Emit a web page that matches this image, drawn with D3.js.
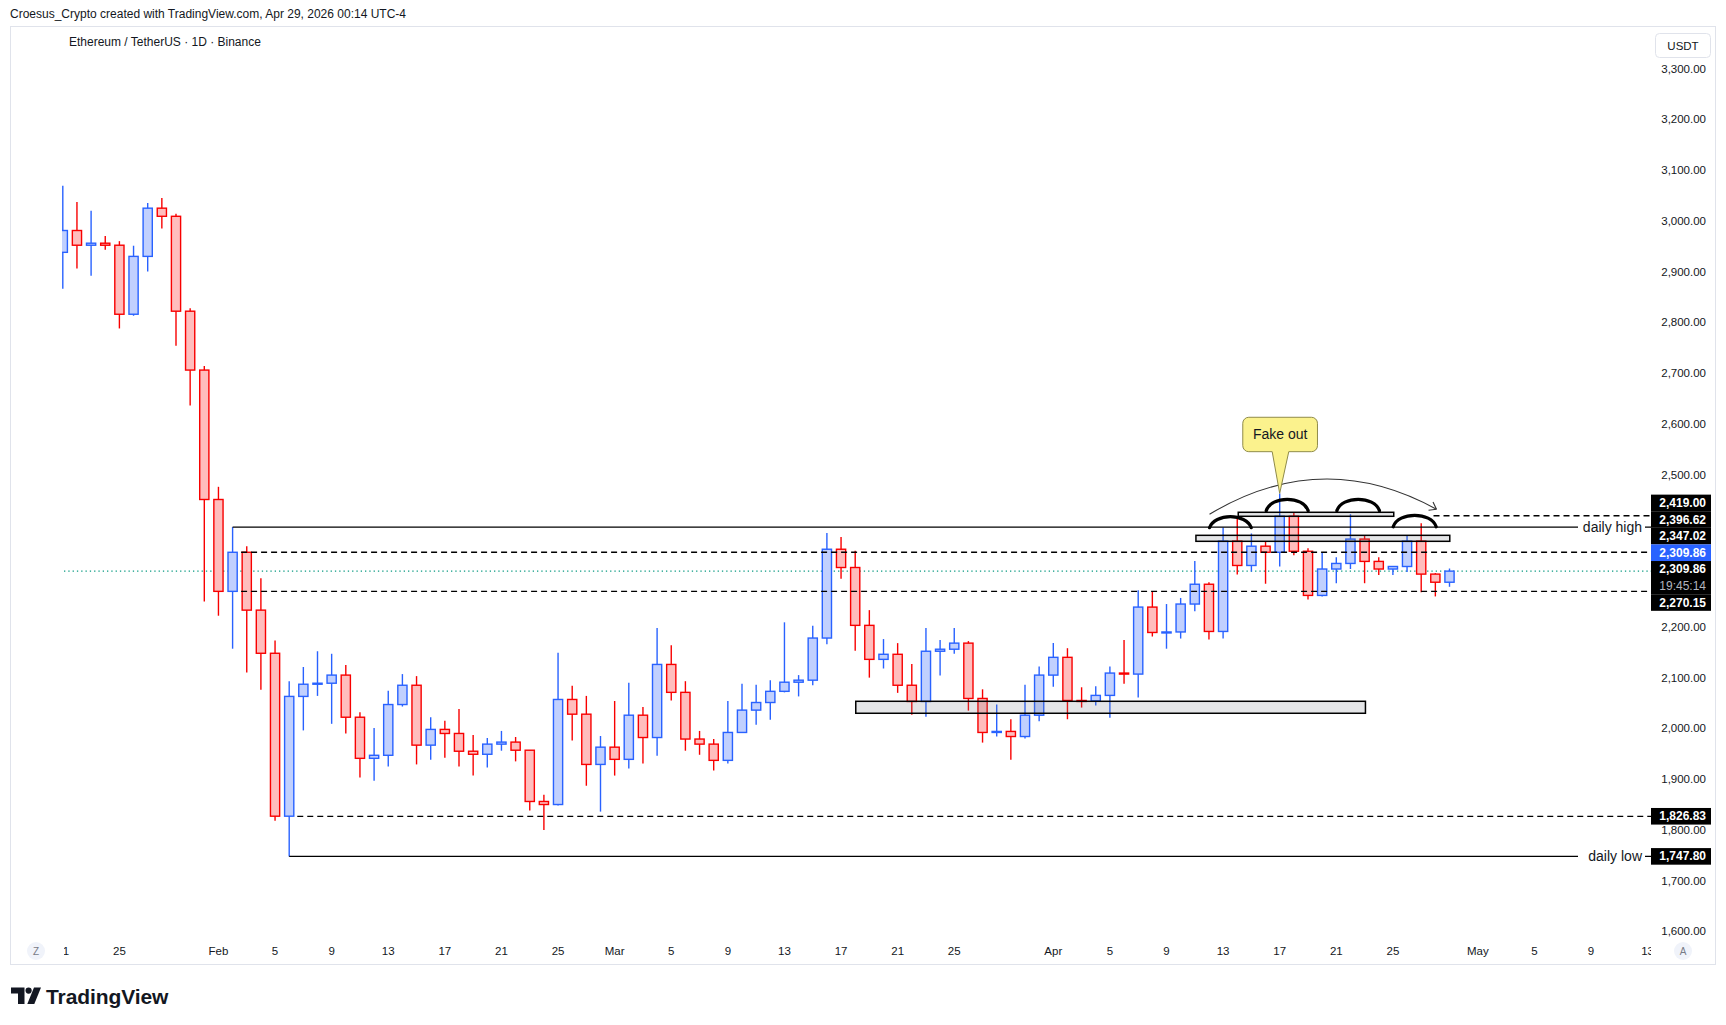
<!DOCTYPE html>
<html>
<head>
<meta charset="utf-8" />
<title>ETH / USDT 1D</title>
<script src="https://cdn.jsdelivr.net/npm/d3@7"></script>
<style>
  body { margin: 0; background: #fff; }
  text { font-family: "Liberation Sans", Arial, sans-serif; fill: #131722; }
</style>
</head>
<body>
<svg id="chart"></svg>
<script>

// daily candles, Jan 21 -> Apr 29 2026
var dates = [
  "2026-01-21","2026-01-22","2026-01-23","2026-01-24","2026-01-25","2026-01-26","2026-01-27","2026-01-28","2026-01-29","2026-01-30",
  "2026-01-31","2026-02-01","2026-02-02","2026-02-03","2026-02-04","2026-02-05","2026-02-06","2026-02-07","2026-02-08","2026-02-09",
  "2026-02-10","2026-02-11","2026-02-12","2026-02-13","2026-02-14","2026-02-15","2026-02-16","2026-02-17","2026-02-18","2026-02-19",
  "2026-02-20","2026-02-21","2026-02-22","2026-02-23","2026-02-24","2026-02-25","2026-02-26","2026-02-27","2026-02-28","2026-03-01",
  "2026-03-02","2026-03-03","2026-03-04","2026-03-05","2026-03-06","2026-03-07","2026-03-08","2026-03-09","2026-03-10","2026-03-11",
  "2026-03-12","2026-03-13","2026-03-14","2026-03-15","2026-03-16","2026-03-17","2026-03-18","2026-03-19","2026-03-20","2026-03-21",
  "2026-03-22","2026-03-23","2026-03-24","2026-03-25","2026-03-26","2026-03-27","2026-03-28","2026-03-29","2026-03-30","2026-03-31",
  "2026-04-01","2026-04-02","2026-04-03","2026-04-04","2026-04-05","2026-04-06","2026-04-07","2026-04-08","2026-04-09","2026-04-10",
  "2026-04-11","2026-04-12","2026-04-13","2026-04-14","2026-04-15","2026-04-16","2026-04-17","2026-04-18","2026-04-19","2026-04-20",
  "2026-04-21","2026-04-22","2026-04-23","2026-04-24","2026-04-25","2026-04-26","2026-04-27","2026-04-28","2026-04-29"
];
var open = [
  2938, 2981, 2952, 2956, 2952, 2816, 2930, 3025, 3009, 2822,
  2706, 2451, 2270, 2347, 2233, 2148, 1827, 2063, 2087, 2089,
  2105, 2022, 1941, 1947, 2047, 2085, 1967, 1998, 1990, 1955,
  1949, 1969, 1973, 1957, 1856, 1850, 2057, 2028, 1929, 1963,
  1939, 2026, 1982, 2126, 2071, 1979, 1969, 1937, 1992, 2036,
  2051, 2073, 2091, 2095, 2178, 2353, 2317, 2203, 2136, 2146,
  2085, 2053, 2152, 2156, 2168, 2059, 1992, 1994, 1984, 2026,
  2105, 2140, 2055, 2054, 2065, 2109, 2107, 2239, 2189, 2190,
  2245, 2284, 2191, 2369, 2321, 2359, 2347, 2418, 2349, 2262,
  2314, 2325, 2373, 2329, 2314, 2319, 2369, 2304, 2288
];
var high = [
  3069, 3037, 3020, 2970, 2960, 2951, 3035, 3045, 3014, 2828,
  2714, 2476, 2396.62, 2359, 2296, 2173, 2093, 2121, 2152, 2147,
  2125, 2032, 2001, 2074, 2107, 2103, 2022, 2015, 2038, 1987,
  1981, 1995, 1983, 1957, 1869, 2149, 2084, 2064, 1985, 2054,
  2090, 2042, 2198, 2164, 2093, 1995, 1979, 2054, 2088, 2086,
  2095, 2209, 2105, 2202, 2385, 2377, 2350, 2233, 2176, 2168,
  2127, 2198, 2174, 2198, 2172, 2077, 2047, 2018, 2086, 2122,
  2168, 2158, 2081, 2083, 2122, 2174, 2272, 2270, 2245, 2257,
  2330, 2288, 2396, 2417, 2384, 2369, 2463, 2426, 2355, 2347,
  2337, 2422, 2380, 2337, 2320, 2380, 2404, 2306, 2315
];
var low = [
  2866, 2906, 2892, 2943, 2788, 2813, 2900, 2985, 2754, 2636,
  2250, 2222, 2157, 2110, 2076, 1818, 1747.8, 1996, 2064, 2009,
  1990, 1903, 1897, 1925, 2043, 1929, 1938, 1942, 1925, 1907,
  1923, 1956, 1935, 1838, 1800, 1848, 1976, 1887, 1836, 1907,
  1921, 1931, 1946, 2055, 1956, 1948, 1917, 1931, 1992, 2007,
  2017, 2071, 2063, 2085, 2166, 2295, 2153, 2100, 2118, 2070,
  2027, 2023, 2104, 2147, 2035, 1972, 1984, 1938, 1980, 2014,
  2082, 2018, 2041, 2045, 2021, 2088, 2061, 2181, 2157, 2177,
  2231, 2175, 2177, 2303, 2309, 2285, 2319, 2341, 2254, 2260,
  2286, 2314, 2286, 2302, 2302, 2308, 2268, 2260, 2279
];
var close = [
  2981, 2952, 2956, 2952, 2816, 2930, 3025, 3009, 2822, 2706,
  2451, 2270, 2347, 2233, 2148, 1827, 2063, 2087, 2089, 2105,
  2022, 1941, 1947, 2047, 2085, 1967, 1998, 1990, 1955, 1949,
  1969, 1973, 1957, 1856, 1850, 2057, 2028, 1929, 1963, 1939,
  2026, 1982, 2126, 2071, 1979, 1969, 1937, 1992, 2036, 2051,
  2073, 2091, 2095, 2178, 2353, 2317, 2203, 2136, 2146, 2085,
  2053, 2152, 2156, 2168, 2059, 1992, 1994, 1984, 2026, 2105,
  2140, 2055, 2054, 2065, 2109, 2107, 2239, 2189, 2190, 2245,
  2284, 2191, 2369, 2321, 2359, 2347, 2418, 2349, 2262, 2314,
  2325, 2373, 2329, 2314, 2319, 2369, 2304, 2288, 2309.86
];

var priceTicks = [3300, 3200, 3100, 3000, 2900, 2800, 2700, 2600, 2500, 2400, 2300, 2200, 2100, 2000, 1900, 1800, 1700, 1600];
var timeTickDates = ["2026-01-21","2026-01-25","2026-02-01","2026-02-05","2026-02-09","2026-02-13","2026-02-17","2026-02-21","2026-02-25",
  "2026-03-01","2026-03-05","2026-03-09","2026-03-13","2026-03-17","2026-03-21","2026-03-25","2026-04-01","2026-04-05","2026-04-09",
  "2026-04-13","2026-04-17","2026-04-21","2026-04-25","2026-05-01","2026-05-05","2026-05-09","2026-05-13"];
var timeTickLabels = ["21","25","Feb","5","9","13","17","21","25","Mar","5","9","13","17","21","25","Apr","5","9","13","17","21","25","May","5","9","13"];

// drawings (day offset from Jan 21, price)
var levelPrice = [2419.00, 2396.62, 2347.02, 2270.15, 1826.83, 1747.80];
var levelFrom  = [96.87, 12, 12.6, 12.6, 16.57, 16];
var levelText  = ["", "daily high", "", "", "", "daily low"];

var zoneFrom   = [56.04, 80.08, 83.07];
var zoneTo     = [92.06, 98.02, 94.06];
var zoneTop    = [2053.4, 2380.4, 2425.8];
var zoneBottom = [2029.8, 2368.6, 2417.9];

var arcFrom = [81.04, 85.05, 90.04, 94.02];
var arcTo   = [83.99, 88.01, 93.05, 97.06];
var arcBase = [2395.5, 2428.9, 2428.9, 2397.4];
var arcTop  = [2417.2, 2451.4, 2451.4, 2419.9];

var arrowDays   = [81.04, 89.02, 97.08];
var arrowPrices = [2421.9, 2555.5, 2431.7];

var calloutText = "Fake out";
var calloutTip = [86, 2463];
var calloutBoxDays = [83.39, 88.67];
var calloutBoxPrices = [2613, 2545.2];
var calloutBaseDays = [85.47, 86.64];

var lastPrice = 2309.86;
var countdown = "19:45:14";

var width = 1726, height = 1025;
var upColor = "#2962ff", upFill = "#c1d0fe";
var downColor = "#f80000", downFill = "#ffbdbd";

var svg = d3.select("#chart").attr("width", width).attr("height", height);

var parse = d3.utcParse("%Y-%m-%d");
var start = parse(dates[0]);
var x = d3.scaleUtc()
  .domain([start, parse("2026-05-13")])
  .range([62.8, 1647.6]);
var y = d3.scaleLinear()
  .domain([1600, 3300])
  .range([931.4, 68.6]);

function atDay(d) {
  return x(new Date(start.getTime() + d * 864e5));
}

var plotLeft = 62, plotRight = 1651;

// header
svg.append("text").attr("x", 10).attr("y", 14).attr("dominant-baseline", "central")
  .attr("font-size", "12px")
  .text("Croesus_Crypto created with TradingView.com, Apr 29, 2026 00:14 UTC-4");

svg.append("rect").attr("x", 10.5).attr("y", 26.5).attr("width", 1705).attr("height", 938)
  .attr("fill", "#fff").attr("stroke", "#e0e3eb");

svg.append("text").attr("x", 69).attr("y", 42).attr("dominant-baseline", "central")
  .attr("font-size", "12px")
  .text("Ethereum / TetherUS \u00b7 1D \u00b7 Binance");

// clip for plot
svg.append("clipPath").attr("id", "plotclip").append("rect")
  .attr("x", plotLeft).attr("y", 27).attr("width", plotRight - plotLeft).attr("height", 913);
svg.append("clipPath").attr("id", "timeclip").append("rect")
  .attr("x", plotLeft + 2).attr("y", 940).attr("width", plotRight - plotLeft - 2).attr("height", 24);

// last price dotted line
svg.append("line")
  .attr("x1", 64).attr("x2", plotRight)
  .attr("y1", y(lastPrice)).attr("y2", y(lastPrice))
  .attr("stroke", "#089981").attr("stroke-width", 1.2).attr("stroke-dasharray", "1.3,3");

// candles
var candles = dates.map(function(d, i) {
  return { date: parse(d), o: open[i], h: high[i], l: low[i], c: close[i] };
});
var cg = svg.append("g").attr("clip-path", "url(#plotclip)");
cg.selectAll(".wick").data(candles).enter().append("line")
  .attr("class", "wick")
  .attr("x1", function(d) { return x(d.date); })
  .attr("x2", function(d) { return x(d.date); })
  .attr("y1", function(d) { return y(d.h); })
  .attr("y2", function(d) { return y(d.l); })
  .attr("stroke", function(d) { return d.c >= d.o ? upColor : downColor; })
  .attr("stroke-width", 1.4);
cg.selectAll(".body").data(candles).enter().append("rect")
  .attr("class", "body")
  .attr("x", function(d) { return x(d.date) - 4.6; })
  .attr("width", 9.2)
  .attr("y", function(d) { return y(Math.max(d.o, d.c)); })
  .attr("height", function(d) { return Math.max(1, Math.abs(y(d.o) - y(d.c))); })
  .attr("fill", function(d) { return d.c >= d.o ? upFill : downFill; })
  .attr("stroke", function(d) { return d.c >= d.o ? upColor : downColor; })
  .attr("stroke-width", 1.4);

// drawings
var dg = svg.append("g").attr("clip-path", "url(#plotclip)");

zoneFrom.forEach(function(f, i) {
  dg.append("rect")
    .attr("x", atDay(f)).attr("width", atDay(zoneTo[i]) - atDay(f))
    .attr("y", y(zoneTop[i])).attr("height", y(zoneBottom[i]) - y(zoneTop[i]))
    .attr("fill", "rgba(120,123,134,0.2)").attr("stroke", "#000").attr("stroke-width", 1.5);
});

levelPrice.forEach(function(p, i) {
  var solid = levelText[i] !== "";
  dg.append("line")
    .attr("x1", atDay(levelFrom[i])).attr("x2", plotRight)
    .attr("y1", y(p)).attr("y2", y(p))
    .attr("stroke", "#000").attr("stroke-width", solid ? 1.4 : 1.3)
    .attr("stroke-dasharray", solid ? null : "6,4");
  if (solid) {
    dg.append("rect").attr("x", 1578).attr("y", y(p) - 9).attr("width", 67).attr("height", 18).attr("fill", "#fff");
    dg.append("text").attr("x", 1642).attr("y", y(p)).attr("dominant-baseline", "central")
      .attr("text-anchor", "end").attr("font-size", "14px").text(levelText[i]);
  }
});

arcFrom.forEach(function(f, i) {
  var x0 = atDay(f), x1 = atDay(arcTo[i]);
  var yb = y(arcBase[i]), yt = y(arcTop[i]);
  var w = x1 - x0;
  var yc = (8 * yt - 2 * yb) / 6;
  var p = d3.path();
  p.moveTo(x0, yb);
  p.bezierCurveTo(x0 + w * 0.12, yc, x1 - w * 0.12, yc, x1, yb);
  dg.append("path").attr("d", p.toString()).attr("fill", "none")
    .attr("stroke", "#000").attr("stroke-width", 3.3).attr("stroke-linecap", "round");
});

// curved arrow
var ax = arrowDays.map(atDay), ay = arrowPrices.map(y);
var ap = d3.path();
ap.moveTo(ax[0], ay[0]);
ap.quadraticCurveTo(ax[1], ay[1], ax[2], ay[2]);
dg.append("path").attr("d", ap.toString()).attr("fill", "none").attr("stroke", "#333").attr("stroke-width", 1.1);
var ang = Math.atan2(ay[2] - ay[1], ax[2] - ax[1]);
var head = d3.path();
[0.62, -0.62].forEach(function(da) {
  head.moveTo(ax[2], ay[2]);
  head.lineTo(ax[2] - 8 * Math.cos(ang + da), ay[2] - 8 * Math.sin(ang + da));
});
dg.append("path").attr("d", head.toString()).attr("fill", "none").attr("stroke", "#333").attr("stroke-width", 1.1);

// callout
var bx0 = atDay(calloutBoxDays[0]), bx1 = atDay(calloutBoxDays[1]);
var by0 = y(calloutBoxPrices[0]), by1 = y(calloutBoxPrices[1]);
var px0 = atDay(calloutBaseDays[0]), px1 = atDay(calloutBaseDays[1]);
var tx = atDay(calloutTip[0]), ty = y(calloutTip[1]);
var r = 6;
var cp = d3.path();
cp.moveTo(bx0 + r, by0);
cp.lineTo(bx1 - r, by0);
cp.arcTo(bx1, by0, bx1, by0 + r, r);
cp.lineTo(bx1, by1 - r);
cp.arcTo(bx1, by1, bx1 - r, by1, r);
cp.lineTo(px1, by1);
cp.lineTo(tx, ty);
cp.lineTo(px0, by1);
cp.lineTo(bx0 + r, by1);
cp.arcTo(bx0, by1, bx0, by1 - r, r);
cp.lineTo(bx0, by0 + r);
cp.arcTo(bx0, by0, bx0 + r, by0, r);
cp.closePath();
svg.append("path").attr("d", cp.toString()).attr("fill", "#fbf28d").attr("stroke", "#8f8b4a").attr("stroke-width", 1);
svg.append("text").attr("x", (bx0 + bx1) / 2).attr("y", (by0 + by1) / 2)
  .attr("text-anchor", "middle").attr("dominant-baseline", "central")
  .attr("font-size", "14px").text(calloutText);

// axis labels, stacked round the countdown label
var fmt = d3.format(",.2f");
var rowH = 16.6;
var stack = [
  { price: 2419.00, rows: [fmt(2419.00)], bg: "#000" },
  { price: 2396.62, rows: [fmt(2396.62)], bg: "#000" },
  { price: 2347.02, rows: [fmt(2347.02)], bg: "#000" },
  { price: lastPrice, rows: [fmt(lastPrice)], bg: upColor },
  { price: lastPrice, rows: [fmt(lastPrice), countdown], bg: "#000", anchor: true },
  { price: 2270.15, rows: [fmt(2270.15)], bg: "#000" },
  { price: 1826.83, rows: [fmt(1826.83)], bg: "#000" },
  { price: 1747.80, rows: [fmt(1747.80)], bg: "#000" }
];
var ai = stack.findIndex(function(s) { return s.anchor; });
stack[ai].top = y(stack[ai].price) - 1.8 - rowH / 2;
for (var k = ai - 1; k >= 0; k--) {
  var hgt = stack[k].rows.length * rowH;
  stack[k].top = Math.min(y(stack[k].price) - rowH / 2, stack[k + 1].top - hgt);
}
for (var k = ai + 1; k < stack.length; k++) {
  var prevBottom = stack[k - 1].top + stack[k - 1].rows.length * rowH;
  stack[k].top = Math.max(y(stack[k].price) - rowH / 2, prevBottom);
}

// price axis ticks, hidden where a label box sits on them
function covered(v) {
  var yy = y(v);
  return stack.some(function(s) {
    return yy > s.top - 5 && yy < s.top + s.rows.length * rowH + 5 - (s.rows.length === 1 && s.price < 1900 ? 10 : 0);
  });
}
svg.append("g").selectAll("text").data(priceTicks.filter(function(v) { return !covered(v); }))
  .enter().append("text")
  .attr("x", 1706).attr("y", function(d) { return y(d); })
  .attr("text-anchor", "end").attr("dominant-baseline", "central")
  .attr("font-size", "11.5px").text(function(d) { return fmt(d); });

svg.append("rect").attr("x", 1655.5).attr("y", 33.5).attr("width", 55).attr("height", 24).attr("rx", 4)
  .attr("fill", "#fff").attr("stroke", "#e0e3eb");
svg.append("text").attr("x", 1683).attr("y", 45.5).attr("text-anchor", "middle").attr("dominant-baseline", "central")
  .attr("font-size", "11.5px").text("USDT");

stack.forEach(function(s) {
  svg.append("rect").attr("x", 1651).attr("y", s.top).attr("width", 60).attr("height", s.rows.length * rowH)
    .attr("fill", s.bg);
  s.rows.forEach(function(t, j) {
    svg.append("text").attr("x", 1706).attr("y", s.top + rowH * (j + 0.5))
      .attr("text-anchor", "end").attr("dominant-baseline", "central")
      .attr("font-size", "12px").attr("font-weight", j === 0 ? "bold" : "normal")
      .style("fill", j === 0 ? "#fff" : "#b2b5be").text(t);
  });
});

// time axis
svg.append("g").attr("clip-path", "url(#timeclip)")
  .selectAll("text").data(timeTickDates).enter().append("text")
  .attr("x", function(d) { return x(parse(d)); }).attr("y", 950.5)
  .attr("text-anchor", "middle").attr("dominant-baseline", "central")
  .attr("font-size", "11.5px")
  .text(function(d, i) { return timeTickLabels[i]; });

[[36, "Z"], [1683, "A"]].forEach(function(b) {
  svg.append("circle").attr("cx", b[0]).attr("cy", 951).attr("r", 9).attr("fill", "#f0f3fa");
  svg.append("text").attr("x", b[0]).attr("y", 951.5).attr("text-anchor", "middle").attr("dominant-baseline", "central")
    .attr("font-size", "10px").style("fill", "#787b86").text(b[1]);
});

// logo
var logo = svg.append("g");
logo.append("path").attr("d", "M11,987.5 H24.5 V1004 H18 V993.5 H11 Z").attr("fill", "#131722");
logo.append("circle").attr("cx", 28.6).attr("cy", 990.6).attr("r", 3.1).attr("fill", "#131722");
logo.append("path").attr("d", "M34,987.5 H41 L34.3,1004 H27.3 Z").attr("fill", "#131722");
logo.append("text").attr("x", 46).attr("y", 996).attr("dominant-baseline", "central")
  .attr("font-size", "21px").attr("font-weight", "bold").attr("letter-spacing", "-0.1px").text("TradingView");

</script>
</body>
</html>
